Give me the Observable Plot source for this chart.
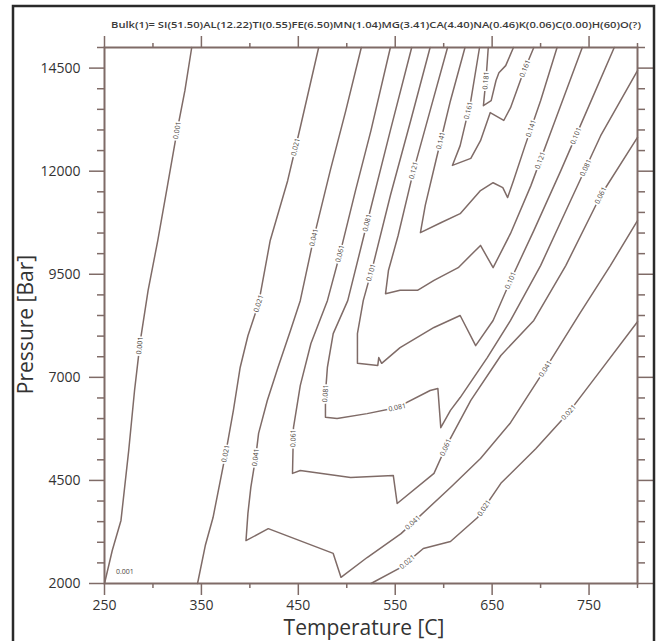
<!DOCTYPE html>
<html><head><meta charset="utf-8">
<script src="https://cdn.jsdelivr.net/npm/d3@7"></script>
<script src="https://cdn.jsdelivr.net/npm/@observablehq/plot@0.6"></script>
<style>
html,body{margin:0;padding:0;background:#fff;}
#chart{position:absolute;left:0;top:0;width:659px;height:641px;}
</style></head><body>
<div id="chart"></div>
<script>
// ---- text ----
const title = "Bulk(1)= SI(51.50)AL(12.22)TI(0.55)FE(6.50)MN(1.04)MG(3.41)CA(4.40)NA(0.46)K(0.06)C(0.00)H(60)O(?)";
const xLabel = "Temperature [C]";
const yLabel = "Pressure [Bar]";
// ---- ticks ----
const xMajor = [250, 350, 450, 550, 650, 750];
const xMinor = [300, 400, 500, 600, 700, 800];
const yMajor = [2000, 4500, 7000, 9500, 12000, 14500];
const yMinor = [2500, 3000, 3500, 4000, 5000, 5500, 6000, 6500, 7500, 8000, 8500, 9000, 10000, 10500, 11000, 11500, 12500, 13000, 13500, 14000, 15000];
// ---- contour lines [T (C), P (bar)] ----
const c001 = [[250,2000],[258,2800],[267,3530],[275,5230],[281,6680],[287,7890],[295,9110],[305,10320],[315,11650],[325,12990],[333,13960],[340,15000]];
const c021a = [[346,2000],[354,2920],[362,3600],[375,5150],[383,6200],[390,7240],[398,8010],[409,8790],[421,10320],[439,11770],[452,13060],[471,15000]];
const c021b = [[525,2000],[556,2390],[579,2850],[607,3020],[635,3600],[659,4430],[695,5270],[729,6150],[762,7170],[800,8350]];
const c041 = [[515,15000],[499,13470],[483,12020],[466,10390],[452,8860],[442,8140],[429,7240],[418,6440],[409,5640],[406,5060],[401,4330],[398,3700],[396,3040],[419,3330],[486,2730],[494,2150],[521,2630],[556,3210],[607,4330],[638,5030],[669,5900],[705,7210],[741,8570],[772,9710],[800,10800]];
const c061 = [[545,15000],[525,12990],[509,11530],[493,10000],[480,8860],[463,7820],[452,6800],[445,5780],[444,4670],[452,4740],[504,4570],[548,4620],[552,3940],[590,4670],[602,5300],[628,6440],[659,7530],[693,8380],[726,9710],[762,11410],[800,12820]];
const c081 = [[567,15000],[545,12990],[521,10750],[501,8860],[486,8060],[480,7240],[478,6610],[478,6030],[490,6000],[521,6120],[552,6270],[586,6680],[594,6730],[597,5780],[607,6200],[617,6510],[645,7480],[669,8380],[700,9710],[731,11290],[762,12860],[800,14440]];
const c101 = [[586,15000],[566,13230],[545,11410],[527,9710],[517,8860],[511,8060],[511,7340],[532,7290],[533,7480],[536,7340],[555,7720],[590,8210],[617,8500],[633,7770],[651,8380],[669,9350],[693,10560],[721,12020],[750,13590],[776,15000]];
const c121 = [[604,15000],[586,13470],[569,12020],[553,10440],[543,9590],[540,9030],[555,9110],[573,9110],[590,9350],[615,9660],[638,10200],[651,9660],[669,10490],[690,11650],[715,13230],[743,15000]];
const c141 = [[622,15000],[607,13710],[592,12260],[581,11170],[576,10510],[597,10750],[617,10970],[638,11530],[651,11720],[661,11600],[666,11360],[672,11770],[684,12620],[700,13710],[717,15000]];
const c161 = [[637,15000],[628,13710],[617,12620],[609,12140],[628,12310],[638,12740],[648,13420],[657,13300],[662,13230],[669,13540],[681,14320],[693,15000]];
const c181 = [[646,15000],[644,14320],[641,13590],[649,13710],[654,14200],[657,14390],[664,14560],[672,15000]];
// ---- contour label anchors [T, P] ----
const lab001 = [[325,12990],[286,7770]];
const lab001flat = [[271,2290]];
const lab021a = [[450,12570],[409,8790],[375,5150]];
const lab021b = [[561,2560],[641,3840],[729,6150]];
const lab041 = [[466,10390],[406,5060],[568,3480],[705,7210]];
const lab061 = [[493,10000],[444,5520],[602,5300],[762,11410]];
const lab081 = [[521,10750],[478,6610],[552,6270],[746,12090]];
const lab101 = [[525,9540],[669,9350],[736,12860]];
const lab121 = [[569,12020],[700,12260]];
const lab141 = [[597,12740],[691,13030]];
const lab161 = [[626,13470],[684,14490]];
const lab181 = [[643,14200]];

const contours = [
  ["0.001", c001, lab001], ["0.021", c021a, lab021a], ["0.021", c021b, lab021b],
  ["0.041", c041, lab041], ["0.061", c061, lab061], ["0.081", c081, lab081],
  ["0.101", c101, lab101], ["0.121", c121, lab121], ["0.141", c141, lab141],
  ["0.161", c161, lab161], ["0.181", c181, lab181]
];

const W = 659, H = 641, mL = 104, mR = 22, mT = 47, mB = 58;
const kx = (W - mL - mR) / (800 - 250), ky = (H - mT - mB) / (15000 - 2000);

const lineData = [];
contours.forEach(([lev, pts], i) => pts.forEach(([T, P]) => lineData.push({id: i, T, P})));

function place(pts, labs, text) {
  return labs.map(([t, p]) => {
    let best = null;
    const px = t * kx, py = -p * ky;
    for (let i = 0; i < pts.length - 1; i++) {
      const ax = pts[i][0] * kx, ay = -pts[i][1] * ky, bx = pts[i+1][0] * kx, by = -pts[i+1][1] * ky;
      const dx = bx - ax, dy = by - ay, L = dx*dx + dy*dy;
      let u = L ? ((px - ax) * dx + (py - ay) * dy) / L : 0;
      u = Math.max(0, Math.min(1, u));
      const qx = ax + u * dx, qy = ay + u * dy, d = (px - qx) ** 2 + (py - qy) ** 2;
      if (!best || d < best.d) {
        let a = Math.atan2(dy, dx) * 180 / Math.PI;
        if (a > 90) a -= 180; if (a < -90) a += 180;
        best = {d, T: qx / kx, P: -qy / ky, a, text};
      }
    }
    return best;
  });
}
const labelData = contours.flatMap(([lev, pts, labs]) => place(pts, labs, lev));
const flatData = lab001flat.map(([T, P]) => ({T, P, text: "0.001"}));

const lineColor = "#7f6b67";
const textColor = "#333";
const fam = "'Open Sans', 'Noto Sans', sans-serif";

const chart = Plot.plot({
  width: W, height: H,
  marginLeft: mL, marginRight: mR, marginTop: mT, marginBottom: mB,
  x: {domain: [250, 800]},
  y: {domain: [2000, 15000]},
  style: {fontFamily: fam, background: "white", overflow: "visible"},
  marks: [
    Plot.line(lineData, {x: "T", y: "P", z: "id", stroke: lineColor, strokeWidth: 1.5}),
    Plot.text(labelData, {x: "T", y: "P", text: "text", rotate: "a", fontSize: 7, fill: "#4a3f3c", stroke: "white", strokeWidth: 3.5, paintOrder: "stroke"}),
    Plot.text(flatData, {x: "T", y: "P", text: "text", fontSize: 7, fill: "#4a3f3c"}),
    Plot.frame({stroke: lineColor, strokeWidth: 2}),
    // tick marks
    Plot.axisX(xMajor, {anchor: "bottom", tickSize: 12, color: lineColor, strokeWidth: 1.5, tickFormat: () => "", label: null}),
    Plot.axisX(xMinor, {anchor: "bottom", tickSize: 5, color: lineColor, strokeWidth: 1.5, tickFormat: () => "", label: null}),
    Plot.axisX(xMajor, {anchor: "top", tickSize: 12, color: lineColor, strokeWidth: 1.5, tickFormat: () => "", label: null}),
    Plot.axisX(xMinor, {anchor: "top", tickSize: 5, color: lineColor, strokeWidth: 1.5, tickFormat: () => "", label: null}),
    Plot.axisY(yMajor, {anchor: "left", tickSize: 15, color: lineColor, strokeWidth: 1.5, tickFormat: () => "", label: null}),
    Plot.axisY(yMinor, {anchor: "left", tickSize: 7, color: lineColor, strokeWidth: 1.5, tickFormat: () => "", label: null}),
    Plot.axisY(yMajor, {anchor: "right", tickSize: 15, color: lineColor, strokeWidth: 1.5, tickFormat: () => "", label: null}),
    Plot.axisY(yMinor, {anchor: "right", tickSize: 7, color: lineColor, strokeWidth: 1.5, tickFormat: () => "", label: null}),
    // tick labels
    Plot.axisX(xMajor, {anchor: "bottom", tickSize: 0, tickPadding: 17, color: textColor, fontSize: 14, label: null}),
    Plot.axisY(yMajor, {anchor: "left", tickSize: 0, tickPadding: 24, color: textColor, fontSize: 14, label: null, tickFormat: d => String(d)}),
    // titles
    Plot.text([xLabel], {frameAnchor: "bottom", dx: -7, dy: 45, fontSize: 21, fill: textColor, lineAnchor: "middle"}),
    Plot.text([yLabel], {frameAnchor: "left", dx: -78, dy: 9, rotate: -90, fontSize: 21, fill: textColor, lineAnchor: "middle", textAnchor: "middle"}),
    Plot.text([title], {frameAnchor: "top", dx: 5, dy: -22, fontSize: 8.5, fill: "#3a3a3a", fontWeight: 600, lineAnchor: "middle"})
  ]
});
document.getElementById("chart").appendChild(chart);
d3.select(chart).selectAll("text").filter(function() { return this.textContent === title; })
  .attr("textLength", 530).attr("lengthAdjust", "spacingAndGlyphs");
// outer border of the picture (left, top, right edges)
const svgNS = "http://www.w3.org/2000/svg";
const border = document.createElementNS(svgNS, "path");
border.setAttribute("d", "M13,700V6H654V700");
border.setAttribute("fill", "none");
border.setAttribute("stroke", "#2a2a2a");
border.setAttribute("stroke-width", "2.5");
chart.appendChild(border);
</script>
</body></html>
